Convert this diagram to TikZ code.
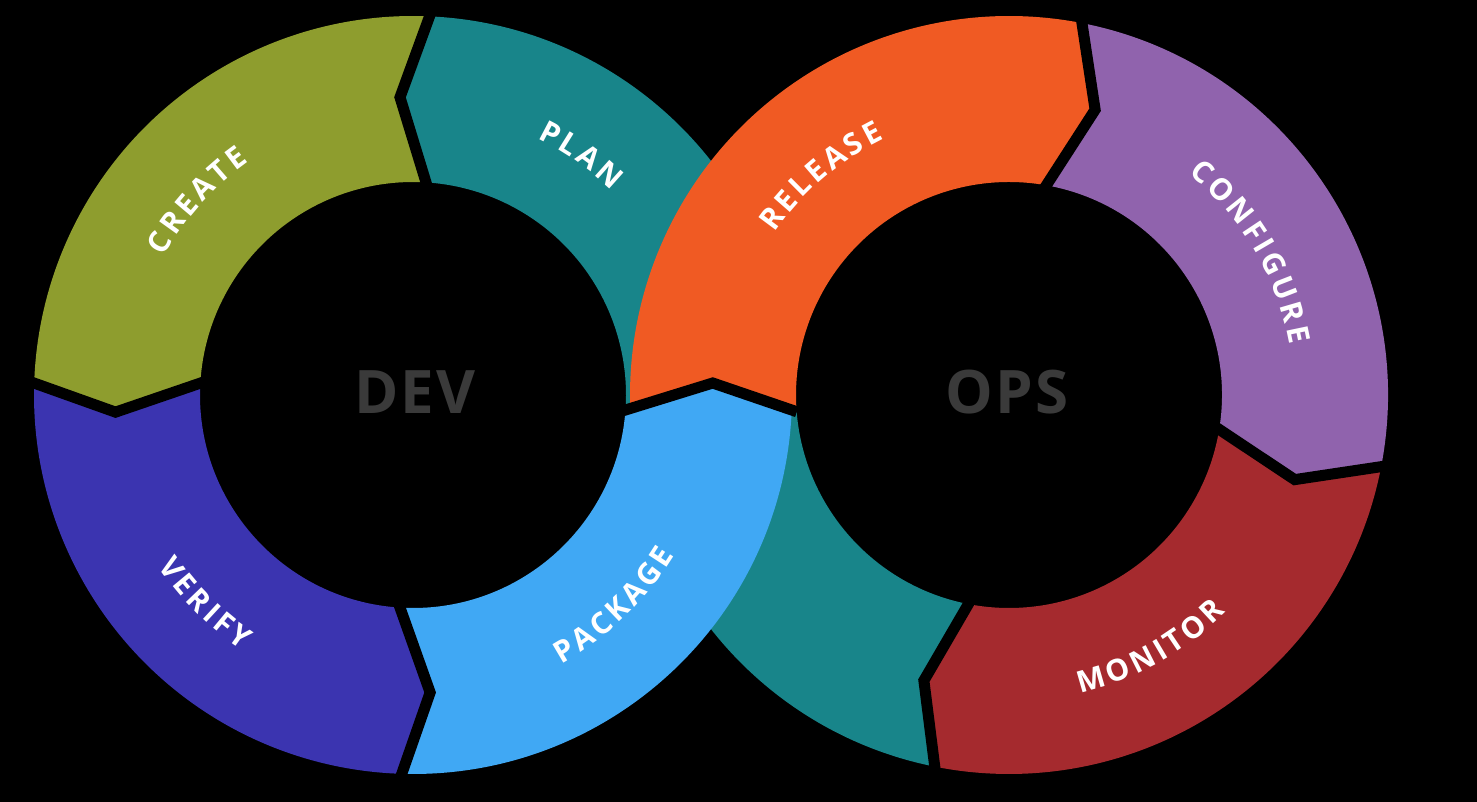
\documentclass[tikz,border=0pt]{standalone}
\usepackage{fontspec}
\usepackage{xcolor}
\usetikzlibrary{%
	calc,%
	decorations.text
}

\newfontfamily\labelfont{Open Sans}
\newfontfamily\ringfont[LetterSpace=4]{Open Sans}
\newcommand\lblfont{\labelfont\bfseries\fontsize{30}{30}\selectfont}

\definecolor{create}{RGB}{142,157,46}
\definecolor{plan}{RGB}{24,133,138}
\definecolor{verify}{RGB}{59,52,176}
\definecolor{package}{RGB}{64,168,244}
\definecolor{release}{RGB}{240,90,35}
\definecolor{configure}{RGB}{144,99,173}
\definecolor{monitor}{RGB}{165,42,46}
\definecolor{ringgray}{RGB}{58,58,58}

\begin{document}
\begin{tikzpicture}
		[x=1pt,y=1pt,
		sep/.style={draw=black,line width=11pt,line cap=rect},
		lbl/.style={decorate,decoration={text effects along path,text={#1},text align=center,
			text effects/.cd,text along path,characters={font=\lblfont,text=white,inner xsep=1.8pt,inner ysep=0pt,anchor=base}}},
		ringname/.style={font=\ringfont\bfseries\fontsize{60}{60}\selectfont,text=ringgray}
		]
		
		\useasboundingbox (0,0) rectangle (1477,802);
		\fill[black] (0,0) rectangle (1477,802);
		
		% dev ring
		\begin{scope}[shift={(413,407)}]
			\fill[plan] (-2.27:379) arc[start angle=-2.27,end angle=87.5,radius=379] -- (92.5:298) -- (86.5:213) arc[start angle=86.5,end angle=-4.04,radius=213] -- (2.29:300) -- cycle;
			\fill[create] (87.5:379) arc[start angle=87.5,end angle=178.2,radius=379] -- (183.3:298) -- (176.8:213) arc[start angle=176.8,end angle=86.5,radius=213] -- (92.5:298) -- cycle;
			\fill[verify] (178.2:379) arc[start angle=178.2,end angle=268.3,radius=379] -- (273.3:298) -- (266.5:213) arc[start angle=266.5,end angle=176.8,radius=213] -- (183.3:298) -- cycle;
		\end{scope}
		
		% ops ring
		\begin{scope}[shift={(1009,407)}]
			\fill[plan] (-101.3:379) arc[start angle=-101.3,end angle=-177.73,radius=379] -- (-182.32:296) -- (-175.96:213) arc[start angle=-175.96,end angle=-101,radius=213] -- (-106.6:298) -- cycle;
			\fill[configure] (78.9:379) arc[start angle=78.9,end angle=-10.9,radius=379] -- (-16.5:298) -- (-9.3:213) arc[start angle=-9.3,end angle=79.9,radius=213] -- (73.2:298) -- cycle;
			\fill[monitor] (-10.9:379) arc[start angle=-10.9,end angle=-101.3,radius=379] -- (-106.6:298) -- (-101:213) arc[start angle=-101,end angle=-9.3,radius=213] -- (-16.5:298) -- cycle;
			\fill[release] (182.27:379) arc[start angle=182.27,end angle=78.9,radius=379] -- (73.2:298) -- (79.9:213) arc[start angle=79.9,end angle=184.04,radius=213] -- (177.68:296) -- cycle;
			
			\draw[sep] (79.9:213) -- (73.2:298) -- (78.9:379);
			\draw[sep] (-9.3:213) -- (-16.5:298) -- (-10.9:379);
			\draw[sep] (-101:213) -- (-106.6:298) -- (-101.3:379);
			
			\path[lbl=RELEASE] (170.7:285) arc[start angle=170.7,end angle=90.7,radius=285];
			\path[lbl=CONFIGURE] (70.6:285) arc[start angle=70.6,end angle=-9.4,radius=285];
			\path[lbl=MONITOR] (-100.8:307) arc[start angle=-100.8,end angle=-20.8,radius=307];
		\end{scope}
		
		% package goes over the crossing
		\begin{scope}[shift={(413,407)}]
			\fill[package] (268.3:379) arc[start angle=268.3,end angle=357.73,radius=379] -- (362.29:300) -- (355.96:213) arc[start angle=355.96,end angle=266.5,radius=213] -- (273.3:298) -- cycle;
			
			\draw[sep] (86.5:213) -- (92.5:298) -- (87.5:379);
			\draw[sep] (176.8:213) -- (183.3:298) -- (178.2:379);
			\draw[sep] (266.5:213) -- (273.3:298) -- (268.3:379);
			\draw[sep] (-4.04:213) -- (2.29:300) -- (-2.27:379);
			
			\path[lbl=CREATE] (178:285) arc[start angle=178,end angle=98,radius=285];
			\path[lbl=PLAN] (95:285) arc[start angle=95,end angle=15,radius=285];
			\path[lbl=VERIFY] (185:307) arc[start angle=185,end angle=265,radius=307];
			\path[lbl=PACKAGE] (-86.3:307) arc[start angle=-86.3,end angle=-6.3,radius=307];
		\end{scope}
		
		\node[ringname] (dev) at (415,410) {DEV};
		\node[ringname] (ops) at (1007,410) {OPS};
	\end{tikzpicture}
\end{document}
